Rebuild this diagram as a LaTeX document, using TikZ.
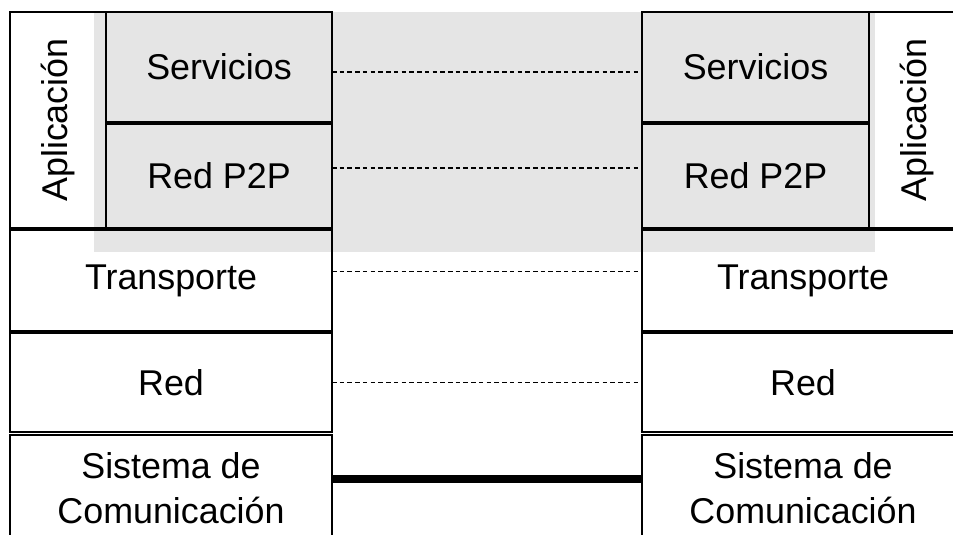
\documentclass[tikz,border=0pt]{standalone}
\usepackage{fontspec}
\setmainfont{Liberation Sans}
\usetikzlibrary{positioning}

\begin{document}
\begin{tikzpicture}[x=0.02cm,y=-0.02cm,
    every node/.style={font=\fontsize{20.4pt}{25.5pt}\selectfont},
    layer/.style 2 args={draw,line width=1pt,inner sep=0pt,outer sep=0pt,
        minimum width=#1*0.02cm,minimum height=#2*0.02cm,align=center},
    peer/.style={line width=1pt,dash pattern=on 2.6pt off 1.8pt},
    medium/.style={line width=5pt}
]
    \useasboundingbox (0,0) rectangle (953,534);
    \clip (0,0) rectangle (953,534);
    \fill[black!10] (94,12) rectangle (875,252);
    % host A
    \node[layer={216}{96},rotate=90] (appL) at (58,120) {Aplicación};
    \node[layer={226}{110}] (servL) at (219,67) {Servicios};
    \node[layer={226}{104}] (p2pL) at (219,176) {Red P2P};
    \node[layer={322}{101}] (transL) at (171,280.5) {Transporte};
    \node[layer={322}{99}] (redL) at (171,382.5) {Red};
    \node[layer={322}{106}] (sisL) at (171,488) {Sistema de\\Comunicación};
    % host B
    \node[layer={216}{96},rotate=90] (appR) at (917,120) {Aplicación};
    \node[layer={227}{110}] (servR) at (755.5,67) {Servicios};
    \node[layer={227}{104}] (p2pR) at (755.5,176) {Red P2P};
    \node[layer={322}{101}] (transR) at (803,280.5) {Transporte};
    \node[layer={322}{99}] (redR) at (803,382.5) {Red};
    \node[layer={322}{106}] (sisR) at (803,488) {Sistema de\\Comunicación};
    % peer links
    \draw[peer] ([yshift=-0.1cm]servL.east) -- ([yshift=-0.1cm]servR.west);
    \draw[peer] ([yshift=0.16cm]p2pL.east) -- ([yshift=0.16cm]p2pR.west);
    \draw[peer] ([yshift=0.18cm]transL.east) -- ([yshift=0.18cm]transR.west);
    \draw[peer] (redL.east) -- (redR.west);
    \draw[medium] ([yshift=0.18cm]sisL.east) -- ([yshift=0.18cm]sisR.west);
\end{tikzpicture}
\end{document}
